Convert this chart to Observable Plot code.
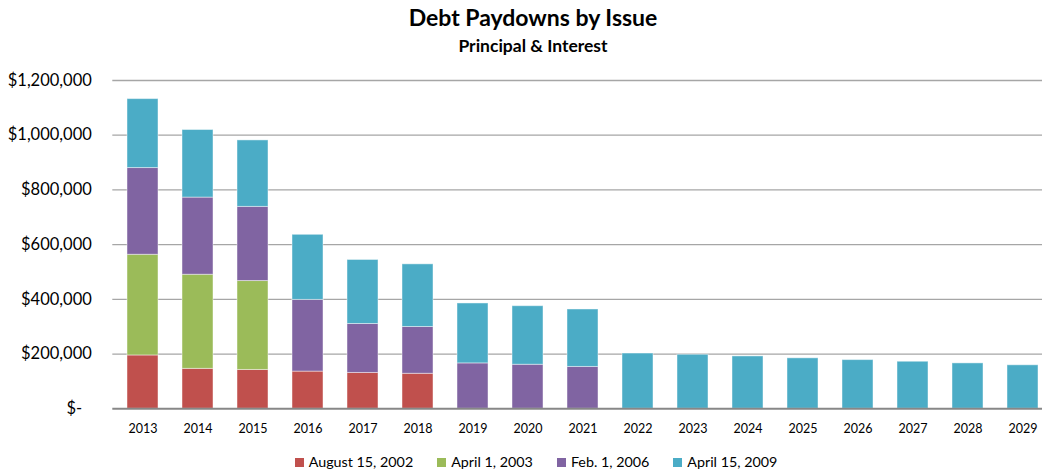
<!DOCTYPE html>
<html>
<head>
<meta charset="utf-8">
<script src="https://cdn.jsdelivr.net/npm/d3@7"></script>
<script src="https://cdn.jsdelivr.net/npm/@observablehq/plot@0.6"></script>
<style>
  body { margin: 0; background: white; }
  #wrap { position: relative; width: 1042px; height: 471px; overflow: hidden; font-family: Lato, "Open Sans", sans-serif; color: #000; }
  .t { position: absolute; left: 0; width: 1066px; text-align: center; font-weight: bold; white-space: nowrap; }
  #title { top: 6.3px; font-size: 23px; line-height: 23px; }
  #subtitle { top: 36.8px; font-size: 17.5px; line-height: 17.5px; }
  #plot { position: absolute; left: 0; top: 0; }
  #legend { position: absolute; left: 0; top: 455px; width: 1072px; display: flex; justify-content: center; gap: 24px; font-size: 14.3px; line-height: 14px; }
  .item { display: flex; align-items: center; gap: 5px; white-space: nowrap; }
  .sw { width: 9px; height: 9px; display: inline-block; }
</style>
</head>
<body>
<div id="wrap">
  <div id="title" class="t">Debt Paydowns by Issue</div>
  <div id="subtitle" class="t">Principal &amp; Interest</div>
  <div id="plot"></div>
  <div id="legend"></div>
</div>
<script>
const years = ["2013","2014","2015","2016","2017","2018","2019","2020","2021","2022","2023","2024","2025","2026","2027","2028","2029"];
const series = ["August 15, 2002", "April 1, 2003", "Feb. 1, 2006", "April 15, 2009"];
const colors = ["#C0504D", "#9BBB59", "#8064A2", "#4BACC6"];
const aug2002 = [195000, 146000, 142000, 136000, 131000, 128000, 0, 0, 0, 0, 0, 0, 0, 0, 0, 0, 0];
const apr2003 = [368000, 344000, 325000, 0, 0, 0, 0, 0, 0, 0, 0, 0, 0, 0, 0, 0, 0];
const feb2006 = [317000, 282000, 271000, 262000, 179000, 171000, 166000, 161000, 153000, 0, 0, 0, 0, 0, 0, 0, 0];
const apr2009 = [252000, 247000, 243000, 238000, 234000, 229000, 219000, 214000, 210000, 202000, 197500, 191500, 184500, 178000, 172000, 166000, 159000];
const yTicks = [0, 200000, 400000, 600000, 800000, 1000000, 1200000];

const seriesValues = [aug2002, apr2003, feb2006, apr2009];
const data = [];
series.forEach((s, i) => {
  years.forEach((y, j) => {
    if (seriesValues[i][j] > 0) data.push({year: y, series: s, value: seriesValues[i][j]});
  });
});

const fmt = d3.format(",");
const chart = Plot.plot({
  width: 1042,
  height: 445,
  marginLeft: 112.3,
  marginRight: -10.4,
  marginTop: 80,
  marginBottom: 36.7,
  style: {fontFamily: "Lato, 'Open Sans', sans-serif", color: "#000", background: "transparent", overflow: "visible"},
  x: {domain: years, paddingInner: 0.43, paddingOuter: 0.215, label: null},
  y: {domain: [0, 1200000], label: null},
  color: {domain: series, range: colors},
  marks: [
    Plot.ruleY(yTicks.filter(d => d > 0), {stroke: "#a6a6a6", strokeWidth: 1.3}),
    Plot.barY(data, {x: "year", y: "value", fill: "series", order: series, stroke: "white", strokeOpacity: 0.45, strokeWidth: 1}),
    Plot.ruleY([0], {stroke: "#878787", strokeWidth: 2}),
    Plot.axisY({ticks: yTicks, tickSize: 0, tickPadding: 21, fontSize: 16.5, tickFormat: d => d === 0 ? "$-\u2007" : "$" + fmt(d), label: null}),
    Plot.axisX({tickSize: 0, tickPadding: 15, fontSize: 12.5, label: null})
  ]
});
document.getElementById("plot").appendChild(chart);

const legend = document.getElementById("legend");
series.forEach((s, i) => {
  const it = document.createElement("div");
  it.className = "item";
  const sw = document.createElement("span");
  sw.className = "sw";
  sw.style.background = colors[i];
  const tx = document.createElement("span");
  tx.textContent = s;
  it.appendChild(sw);
  it.appendChild(tx);
  legend.appendChild(it);
});
</script>
</body>
</html>
